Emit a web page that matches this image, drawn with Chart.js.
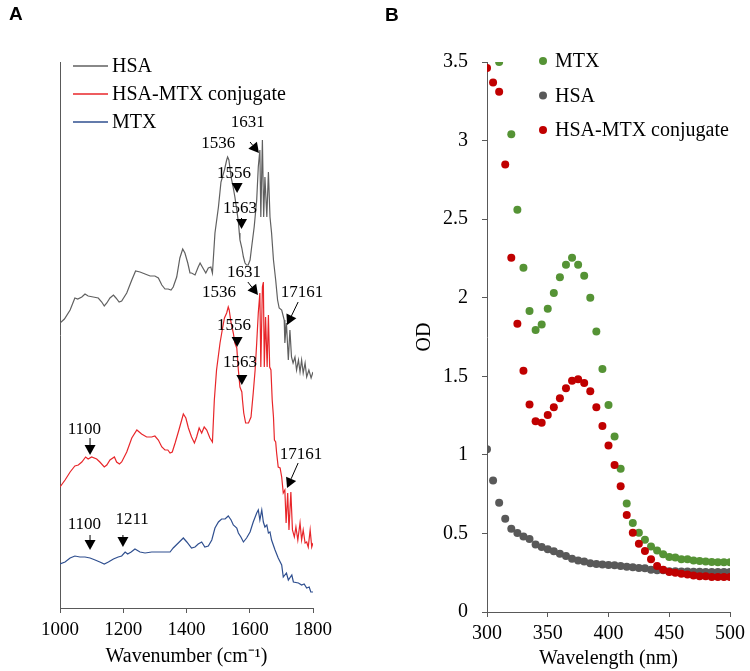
<!DOCTYPE html>
<html>
<head>
<meta charset="utf-8">
<script src="https://cdn.jsdelivr.net/npm/chart.js@4"></script>
<style>
  body { margin: 0; background: #fff; }
  #wrap { position: relative; width: 750px; height: 671px; }
  canvas { position: absolute; top: 0; }
  .tag { position: absolute; font: bold 19px "Liberation Sans", Arial, sans-serif; line-height: 1; }
</style>
</head>
<body>
<div id="wrap">
  <canvas id="ftirChart" width="375" height="671" style="left:0"></canvas>
  <canvas id="uvChart" width="375" height="671" style="left:375px"></canvas>
  <div class="tag" style="left:9px;top:4px">A</div>
  <div class="tag" style="left:385px;top:5px">B</div>
</div>
<script>
// ---- panel A: FTIR spectra, [wavenumber, offset signal]
const hsaSpectrum = [[1000,285],[1014,289],[1032,298],[1047,310],[1056,309],[1069,311],[1079,314],[1089,312],[1105,311],[1121,310],[1132,306],[1140,302],[1148,305],[1158,310],[1169,313],[1177,310],[1187,306],[1195,307],[1211,315],[1227,328],[1239,337],[1253,336],[1269,334],[1285,332],[1300,332],[1311,330],[1322,323],[1332,319],[1342,319],[1351,318],[1358,321],[1369,331],[1379,350],[1388,359],[1395,355],[1404,345],[1411,335],[1416,335],[1427,333],[1437,341],[1443,345],[1450,341],[1461,335],[1469,340],[1477,341],[1482,335],[1490,375],[1501,401],[1509,426],[1520,438],[1527,448],[1530,451],[1534,448],[1541,431],[1548,420],[1553,411],[1559,398],[1564,386],[1567,375],[1569,368],[1575,360],[1580,351],[1585,345],[1590,343],[1595,343],[1601,348],[1606,361],[1614,381],[1622,408],[1627,441],[1632,458],[1635,391],[1640,468],[1644,391],[1648,431],[1654,391],[1659,436],[1664,391],[1669,375],[1675,348],[1682,328],[1688,308],[1693,300],[1701,298],[1709,288],[1711,265],[1716,285],[1722,248],[1727,278],[1732,251],[1737,245],[1743,251],[1748,238],[1754,248],[1759,236],[1764,248],[1769,235],[1775,245],[1780,231],[1787,238],[1794,230],[1800,236]];

const conjugateSpectrum = [[1000,121],[1016,128],[1032,136],[1047,142],[1058,143],[1069,146],[1081,151],[1089,149],[1100,151],[1116,149],[1126,146],[1140,141],[1148,143],[1158,148],[1172,151],[1179,146],[1188,144],[1195,146],[1211,156],[1227,170],[1243,178],[1258,174],[1274,171],[1290,171],[1300,172],[1311,168],[1322,161],[1332,158],[1341,158],[1348,155],[1355,156],[1364,165],[1376,178],[1390,194],[1398,190],[1406,180],[1416,171],[1425,165],[1432,171],[1440,180],[1448,175],[1456,181],[1464,178],[1474,170],[1482,166],[1488,208],[1495,238],[1506,265],[1513,278],[1520,290],[1527,295],[1532,301],[1535,298],[1541,285],[1548,275],[1553,265],[1559,260],[1564,238],[1569,221],[1575,216],[1577,208],[1581,195],[1587,185],[1596,185],[1604,191],[1611,215],[1617,238],[1622,265],[1627,295],[1632,315],[1635,241],[1640,321],[1643,326],[1646,241],[1650,291],[1655,241],[1659,293],[1663,241],[1667,238],[1671,208],[1675,191],[1678,168],[1682,166],[1685,155],[1690,141],[1696,140],[1701,131],[1706,115],[1711,118],[1715,85],[1720,115],[1724,78],[1730,116],[1735,78],[1741,71],[1746,81],[1752,68],[1759,85],[1764,68],[1769,78],[1775,65],[1780,66],[1785,61],[1791,78],[1796,61],[1800,65]];

const mtxSpectrum = [[1000,44],[1016,46],[1032,50],[1047,52],[1063,51],[1079,51],[1095,50],[1111,48],[1126,46],[1140,44],[1153,46],[1169,49],[1184,51],[1195,52],[1206,56],[1214,54],[1225,56],[1237,59],[1253,56],[1269,55],[1290,56],[1311,56],[1332,56],[1348,56],[1358,60],[1374,65],[1390,70],[1401,66],[1416,60],[1427,61],[1437,64],[1448,66],[1458,61],[1469,62],[1480,68],[1490,80],[1501,86],[1511,89],[1522,89],[1532,92],[1541,88],[1548,83],[1559,80],[1564,75],[1572,71],[1580,66],[1590,70],[1601,76],[1611,86],[1622,95],[1627,98],[1632,88],[1638,98],[1643,86],[1648,81],[1654,83],[1659,75],[1664,76],[1669,68],[1680,58],[1690,50],[1701,43],[1706,31],[1716,35],[1722,28],[1733,33],[1738,26],[1754,25],[1764,23],[1772,24],[1780,20],[1788,21],[1793,16],[1800,16]];

const ftirTicks = [1000, 1200, 1400, 1600, 1800];

// peak labels: text position and arrow (from -> tip), all in data units
const peakLabels = [
  {text: "1631", at: [1594, 485], from: [1601, 466], to: [1629, 455]},
  {text: "1536", at: [1500, 464]},
  {text: "1556", at: [1550, 434], from: [1560, 425], to: [1560, 415]},
  {text: "1563", at: [1569, 399], from: [1574, 390], to: [1574, 379]},
  {text: "17161", at: [1765, 315], from: [1753, 306], to: [1718, 283]},
  {text: "1631", at: [1582, 335], from: [1594, 326], to: [1626, 313]},
  {text: "1536", at: [1503, 315]},
  {text: "1556", at: [1550, 282], from: [1560, 271], to: [1560, 261]},
  {text: "1563", at: [1569, 245], from: [1575, 233], to: [1575, 223]},
  {text: "17161", at: [1762, 153], from: [1753, 145], to: [1718, 120]},
  {text: "1100", at: [1077, 178], from: [1095, 170], to: [1095, 153]},
  {text: "1100", at: [1077, 83], from: [1095, 73], to: [1095, 58]},
  {text: "1211", at: [1228, 88], from: [1199, 73], to: [1199, 61]}
];

// ---- panel B: UV-vis absorbance
const wavelengths = [300,305,310,315,320,325,330,335,340,345,350,355,360,365,370,375,380,385,390,395,400,405,410,415,420,425,430,435,440,445,450,455,460,465,470,475,480,485,490,495,500];
const mtxOD = [null,null,3.50,null,3.04,2.56,2.19,1.915,1.795,1.83,1.93,2.03,2.13,2.21,2.255,2.21,2.14,2.00,1.785,1.547,1.318,1.117,0.911,0.69,0.566,0.504,0.46,0.417,0.392,0.367,0.35,0.347,0.335,0.335,0.328,0.324,0.322,0.318,0.316,0.316,0.316];
const hsaOD = [1.036,0.837,0.695,0.593,0.53,0.502,0.48,0.464,0.43,0.413,0.40,0.386,0.37,0.356,0.339,0.328,0.322,0.311,0.305,0.303,0.299,0.297,0.292,0.288,0.284,0.28,0.278,0.269,0.265,0.265,0.26,0.259,0.258,0.257,0.256,0.256,0.255,0.255,0.254,0.254,0.254];
const conjugateOD = [3.462,3.37,3.31,2.847,2.255,1.835,1.536,1.32,1.214,1.205,1.254,1.303,1.36,1.424,1.472,1.481,1.458,1.405,1.303,1.184,1.059,0.936,0.80,0.617,0.504,0.434,0.388,0.335,0.292,0.269,0.254,0.25,0.244,0.239,0.233,0.227,0.227,0.222,0.222,0.222,0.222];

const serif = '"Liberation Serif", "Times New Roman", serif';
const axisGray = "#595959";

function toXY(pairs) { return pairs.map(p => ({x: p[0], y: p[1]})); }
function zipXY(xs, ys) { return xs.map((x, i) => ({x: x, y: ys[i]})); }
const plainNum = v => String(v);

// legend drawn inside the plot, like the original figure
const insideLegend = {
  id: "insideLegend",
  afterDraw(chart, args, opts) {
    const ctx = chart.ctx;
    ctx.save();
    ctx.font = "20px " + serif;
    ctx.textBaseline = "middle";
    ctx.fillStyle = "#000";
    opts.order.forEach((idx, row) => {
      const ds = chart.data.datasets[idx];
      const y = opts.y + row * opts.rowGap;
      if (opts.kind === "line") {
        ctx.strokeStyle = ds.borderColor;
        ctx.lineWidth = 1.3;
        ctx.beginPath();
        ctx.moveTo(opts.x, y);
        ctx.lineTo(opts.x + 35, y);
        ctx.stroke();
        ctx.fillText(ds.label, opts.x + 39, y + 1);
      } else {
        ctx.fillStyle = ds.backgroundColor;
        ctx.beginPath();
        ctx.arc(opts.x, y, 4, 0, Math.PI * 2);
        ctx.fill();
        ctx.fillStyle = "#000";
        ctx.fillText(ds.label, opts.x + 12, y + 1);
      }
    });
    ctx.restore();
  }
};

const peakMarks = {
  id: "peakMarks",
  afterDraw(chart) {
    const ctx = chart.ctx, xs = chart.scales.x, ys = chart.scales.y;
    ctx.save();
    ctx.font = "17px " + serif;
    ctx.textAlign = "center";
    ctx.textBaseline = "middle";
    peakLabels.forEach(p => {
      ctx.fillStyle = "#000";
      ctx.fillText(p.text, xs.getPixelForValue(p.at[0]), ys.getPixelForValue(p.at[1]));
      if (!p.from) return;
      const x1 = xs.getPixelForValue(p.from[0]), y1 = ys.getPixelForValue(p.from[1]);
      const x2 = xs.getPixelForValue(p.to[0]), y2 = ys.getPixelForValue(p.to[1]);
      const ang = Math.atan2(y2 - y1, x2 - x1);
      const len = Math.hypot(x2 - x1, y2 - y1);
      const head = Math.min(10, len);
      const bx = x2 - head * Math.cos(ang), by = y2 - head * Math.sin(ang);
      if (len > head + 0.5) {
        ctx.strokeStyle = "#000";
        ctx.lineWidth = 1;
        ctx.beginPath();
        ctx.moveTo(x1, y1);
        ctx.lineTo(bx, by);
        ctx.stroke();
      }
      const w = 5.5;
      ctx.beginPath();
      ctx.moveTo(x2, y2);
      ctx.lineTo(bx + w * Math.sin(ang), by - w * Math.cos(ang));
      ctx.lineTo(bx - w * Math.sin(ang), by + w * Math.cos(ang));
      ctx.closePath();
      ctx.fill();
    });
    ctx.restore();
  }
};

const ftirChart = new Chart(document.getElementById("ftirChart"), {
  type: "line",
  data: {
    datasets: [
      {label: "HSA", data: toXY(hsaSpectrum), borderColor: "#606060", borderWidth: 1.2},
      {label: "HSA-MTX conjugate", data: toXY(conjugateSpectrum), borderColor: "#E8262A", borderWidth: 1.2},
      {label: "MTX", data: toXY(mtxSpectrum), borderColor: "#2F4F8F", borderWidth: 1.2}
    ]
  },
  options: {
    responsive: false,
    animation: false,
    devicePixelRatio: 1,
    layout: {padding: {top: 62, right: 62, left: 0, bottom: 0}},
    elements: {point: {radius: 0}, line: {tension: 0}},
    plugins: {
      legend: {display: false},
      tooltip: {enabled: false},
      insideLegend: {kind: "line", x: 73, y: 66, rowGap: 28, order: [0, 1, 2]}
    },
    scales: {
      x: {
        type: "linear", min: 1000, max: 1800,
        afterBuildTicks: s => { s.ticks = ftirTicks.map(v => ({value: v})); },
        ticks: {color: "#000", font: {family: serif, size: 19}, padding: 6, maxRotation: 0, callback: plainNum},
        grid: {drawOnChartArea: false, drawTicks: true, tickLength: 5, color: axisGray},
        border: {color: axisGray},
        title: {display: true, text: "Wavenumber (cm\u207B\u00B9)", color: "#000", font: {family: serif, size: 20}, padding: {top: 0, bottom: 2}},
        afterFit: s => { s.height = 63; }
      },
      y: {
        min: 0, max: 546,
        ticks: {display: false},
        grid: {display: false},
        border: {display: true, color: axisGray},
        afterFit: s => { s.width = 60; }
      }
    }
  },
  plugins: [insideLegend, peakMarks]
});

const uvChart = new Chart(document.getElementById("uvChart"), {
  type: "scatter",
  data: {
    datasets: [
      {label: "MTX", data: zipXY(wavelengths, mtxOD), backgroundColor: "#559335", order: 2},
      {label: "HSA", data: zipXY(wavelengths, hsaOD), backgroundColor: "#595959", order: 1},
      {label: "HSA-MTX conjugate", data: zipXY(wavelengths, conjugateOD), backgroundColor: "#C00000", order: 0}
    ]
  },
  options: {
    responsive: false,
    animation: false,
    devicePixelRatio: 1,
    layout: {padding: {top: 62, right: 17, left: 0, bottom: 0}},
    elements: {point: {radius: 4, borderWidth: 0, hoverRadius: 4}},
    plugins: {
      legend: {display: false},
      tooltip: {enabled: false},
      insideLegend: {kind: "dot", x: 168, y: 61, rowGap: 34.5, order: [0, 1, 2]}
    },
    scales: {
      x: {
        type: "linear", min: 300, max: 500,
        ticks: {stepSize: 50, color: "#000", font: {family: serif, size: 20}, padding: 5, maxRotation: 0, callback: plainNum},
        grid: {drawOnChartArea: false, drawTicks: true, tickLength: 5, color: axisGray},
        border: {color: axisGray},
        title: {display: true, text: "Wavelength (nm)", color: "#000", font: {family: serif, size: 20}, padding: {top: 0, bottom: 0}},
        afterFit: s => { s.height = 59; }
      },
      y: {
        min: 0, max: 3.5,
        ticks: {stepSize: 0.5, color: "#000", font: {family: serif, size: 20}, padding: 14, callback: plainNum},
        grid: {drawOnChartArea: false, drawTicks: true, tickLength: 5, color: axisGray},
        border: {color: axisGray},
        title: {display: true, text: "OD", color: "#000", font: {family: serif, size: 20}, padding: {top: 38, bottom: 0}},
        afterFit: s => { s.width = 112; }
      }
    }
  },
  plugins: [insideLegend]
});
</script>
</body>
</html>
